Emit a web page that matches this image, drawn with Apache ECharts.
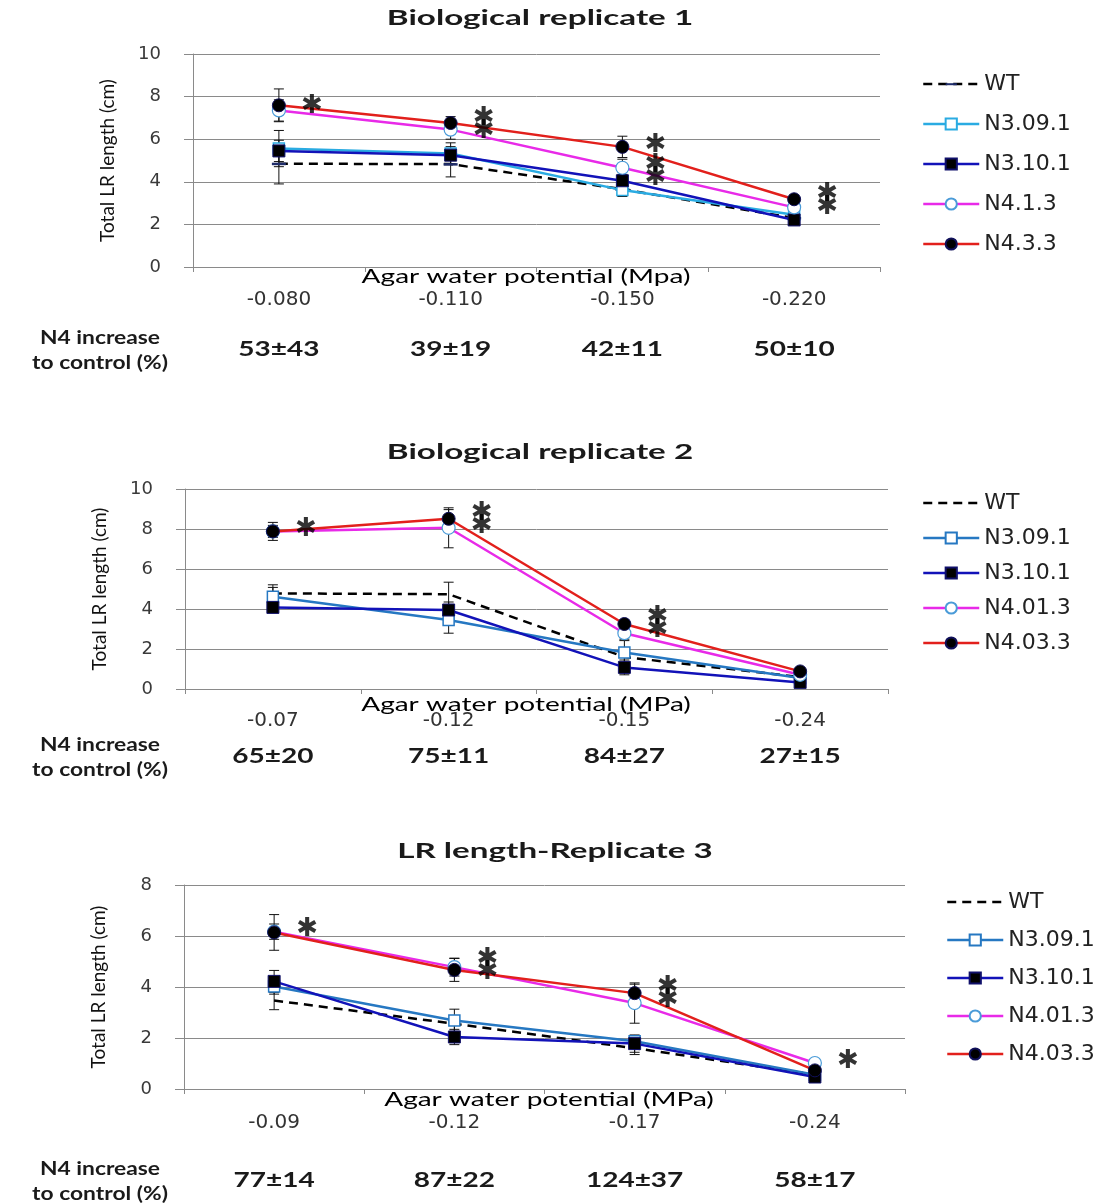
<!DOCTYPE html>
<html>
<head>
<meta charset="utf-8">
<script src="https://cdn.jsdelivr.net/npm/echarts@6/dist/echarts.min.js"></script>
<style>
  html, body { margin: 0; background: #fff; }
  #chart { width: 1112px; height: 1204px; }
</style>
</head>
<body>
<div id="chart"></div>
<script>
// ---- replicate 1
const categories1 = ['-0.080', '-0.110', '-0.150', '-0.220'];
const increase1 = ['53±43', '39±19', '42±11', '50±10'];
const lines1 = ['WT', 'N3.09.1', 'N3.10.1', 'N4.1.3', 'N4.3.3'];
const wt1 = [4.85, 4.83, 3.65, 2.3];
const n309r1 = [5.56, 5.33, 3.61, 2.45];
const n310r1 = [5.45, 5.25, 4.05, 2.21];
const n41r1 = [7.35, 6.45, 4.66, 2.8];
const n43r1 = [7.59, 6.76, 5.64, 3.18];
const wtErr1 = [0.95, 0.6, 0.3, 0.2];
const n309Err1 = [0.85, 0.5, 0.3, 0.2];
const n310Err1 = [0.5, 0.4, 0.3, 0.2];
const n41Err1 = [0.5, 0.45, 0.4, 0.2];
const n43Err1 = [0.77, 0.3, 0.5, 0.2];
const stars1 = [[0, 7.66, '*'], [1, 6.76, '**'], [2, 5.83, '*'], [2, 4.55, '**'], [3, 3.22, '**']];

// ---- replicate 2
const categories2 = ['-0.07', '-0.12', '-0.15', '-0.24'];
const increase2 = ['65±20', '75±11', '84±27', '27±15'];
const lines2 = ['WT', 'N3.09.1', 'N3.10.1', 'N4.01.3', 'N4.03.3'];
const wt2 = [4.78, 4.74, 1.6, 0.6];
const n309r2 = [4.61, 3.45, 1.82, 0.55];
const n310r2 = [4.08, 3.95, 1.08, 0.33];
const n41r2 = [7.88, 8.06, 2.79, 0.71];
const n43r2 = [7.88, 8.51, 3.25, 0.88];
const wtErr2 = [0.3, 0.6, 0.3, 0.1];
const n309Err2 = [0.6, 0.66, 0.6, 0.1];
const n310Err2 = [0.2, 0.4, 0.37, 0.1];
const n41Err2 = [0.3, 1.0, 0.3, 0.1];
const n43Err2 = [0.45, 0.46, 0.2, 0.1];
const stars2 = [[0, 8.09, '*'], [1, 8.54, '**'], [2, 3.37, '**']];

// ---- replicate 3
const categories3 = ['-0.09', '-0.12', '-0.17', '-0.24'];
const increase3 = ['77±14', '87±22', '124±37', '58±17'];
const lines3 = ['WT', 'N3.09.1', 'N3.10.1', 'N4.01.3', 'N4.03.3'];
const wt3 = [3.47, 2.56, 1.6, 0.56];
const n309r3 = [4.02, 2.69, 1.87, 0.56];
const n310r3 = [4.22, 2.04, 1.78, 0.47];
const n41r3 = [6.17, 4.78, 3.37, 1.02];
const n43r3 = [6.14, 4.67, 3.76, 0.73];
const wtErr3 = [0.36, 0.3, 0.25, 0.1];
const n309Err3 = [0.3, 0.44, 0.2, 0.1];
const n310Err3 = [0.43, 0.3, 0.34, 0.1];
const n41Err3 = [0.3, 0.35, 0.79, 0.1];
const n43Err3 = [0.7, 0.45, 0.35, 0.1];
const stars3 = [[0, 6.34, '*'], [1, 4.9, '**'], [2, 3.82, '**'], [3, 1.17, '*']];

const panels = [
  {
    title: 'Biological replicate 1', titleX: 540, titleY: 18,
    grid: { left: 193, top: 54, width: 687, height: 213 },
    cats: categories1, incr: increase1, names: lines1, ymax: 10,
    values: [wt1, n309r1, n310r1, n41r1, n43r1],
    errs: [wtErr1, n309Err1, n310Err1, n41Err1, n43Err1],
    stars: stars1, c309: '#2AABE2', wtMark: true,
    xName: 'Agar water potential (Mpa)', xNameX: 526, xNameY: 277, labelMargin: 23,
    noteY: 350, legend: { left: 917, top: 68, itemGap: 18 }
  },
  {
    title: 'Biological replicate 2', titleX: 540, titleY: 452,
    grid: { left: 185, top: 489, width: 703, height: 200 },
    cats: categories2, incr: increase2, names: lines2, ymax: 10,
    values: [wt2, n309r2, n310r2, n41r2, n43r2],
    errs: [wtErr2, n309Err2, n310Err2, n41Err2, n43Err2],
    stars: stars2, c309: '#2678C2', wtMark: false,
    xName: 'Agar water potential (MPa)', xNameX: 526, xNameY: 705, labelMargin: 22,
    noteY: 757, legend: { left: 917, top: 487, itemGap: 13 }
  },
  {
    title: 'LR length-Replicate 3', titleX: 555, titleY: 851,
    grid: { left: 184, top: 885, width: 721, height: 204 },
    cats: categories3, incr: increase3, names: lines3, ymax: 8,
    values: [wt3, n309r3, n310r3, n41r3, n43r3],
    errs: [wtErr3, n309Err3, n310Err3, n41Err3, n43Err3],
    stars: stars3, c309: '#2678C2', wtMark: false,
    xName: 'Agar water potential (MPa)', xNameX: 549, xNameY: 1100, labelMargin: 24,
    noteY: 1181, legend: { left: 941, top: 886, itemGap: 16 }
  }
];

const chart = echarts.init(document.getElementById('chart'));

const grid = [], xAxis = [], yAxis = [], legend = [], series = [];

panels.forEach((p, k) => {
  const colors = ['#000000', p.c309, '#1212B8', '#E82AE8', '#E2201C'];
  grid.push(p.grid);
  xAxis.push({
    type: 'category', gridIndex: k, data: p.cats, position: 'bottom',
    axisLine: { lineStyle: { color: '#8a8a8a' } },
    axisTick: { show: true, length: 5, lineStyle: { color: '#8a8a8a' } },
    axisLabel: { margin: p.labelMargin, fontFamily: 'DejaVu Sans', fontSize: 20, color: '#333' }
  });
  yAxis.push({
    type: 'value', gridIndex: k, min: 0, max: p.ymax, interval: 2,
    name: 'Total LR length (cm)', nameLocation: 'middle', nameGap: 76,
    nameTextStyle: { fontFamily: 'Lato', fontSize: 19, color: '#111' },
    axisLine: { show: true, lineStyle: { color: '#8a8a8a' } },
    axisTick: { show: true, length: 9, lineStyle: { color: '#8a8a8a' } },
    axisLabel: { margin: 32, fontFamily: 'DejaVu Sans', fontSize: 18, color: '#3a3a3a' },
    splitLine: { lineStyle: { color: '#8a8a8a' } }
  });
  legend.push({
    orient: 'vertical', left: p.legend.left, top: p.legend.top, itemGap: p.legend.itemGap,
    itemWidth: 56, itemHeight: 14,
    data: p.names.map(n => n + '#' + k),
    formatter: n => n.split('#')[0],
    lineStyle: { width: 2.5 },
    textStyle: { fontFamily: 'DejaVu Sans', fontSize: 22, color: '#222' }
  });

  const errData = [];
  p.names.forEach((nm, i) => {
    const s = {
      name: nm + '#' + k, type: 'line', xAxisIndex: k, yAxisIndex: k,
      data: p.values[i], z: 3 + i,
      lineStyle: { color: colors[i], width: 2.5, type: i === 0 ? [9, 6] : 'solid' }
    };
    if (i === 0) {
      if (p.wtMark) {
        // thin dash inside a square box so the legend keeps it flat
        s.symbol = 'path://M0,0M0,6H14V8.5H0ZM14,14';
        s.symbolSize = 14;
        s.itemStyle = { color: '#1F2D6B' };
      } else {
        s.symbol = 'circle';
        s.symbolSize = 0;
        s.itemStyle = { color: 'rgba(0,0,0,0)' };
      }
    } else if (i === 1) {
      s.symbol = 'rect'; s.symbolSize = 11;
      s.itemStyle = { color: '#fff', borderColor: colors[1], borderWidth: 1.5 };
    } else if (i === 2) {
      s.symbol = 'rect'; s.symbolSize = 12;
      s.itemStyle = { color: '#000', borderColor: '#10106a', borderWidth: 1 };
    } else if (i === 3) {
      s.symbol = 'circle'; s.symbolSize = 13;
      s.itemStyle = { color: '#fff', borderColor: '#4A9BD8', borderWidth: 1.2 };
    } else {
      s.symbol = 'circle'; s.symbolSize = 13;
      s.itemStyle = { color: '#000', borderColor: '#10105a', borderWidth: 1 };
    }
    series.push(s);
    p.values[i].forEach((v, j) => errData.push([j, v, p.errs[i][j]]));
  });

  series.push({
    name: 'err' + k, type: 'custom', xAxisIndex: k, yAxisIndex: k, z: 2,
    data: errData, encode: { x: 0, y: 1 }, silent: true,
    renderItem: (params, api) => {
      const x = api.value(0), v = api.value(1), e = api.value(2);
      const top = api.coord([x, v + e]);
      const bot = api.coord([x, v - e]);
      const w = 5;
      const st = { stroke: '#111', lineWidth: 1 };
      return {
        type: 'group', children: [
          { type: 'line', shape: { x1: top[0], y1: top[1], x2: bot[0], y2: bot[1] }, style: st },
          { type: 'line', shape: { x1: top[0] - w, y1: top[1], x2: top[0] + w, y2: top[1] }, style: st },
          { type: 'line', shape: { x1: bot[0] - w, y1: bot[1], x2: bot[0] + w, y2: bot[1] }, style: st }
        ]
      };
    }
  });

  series.push({
    name: 'star' + k, type: 'scatter', xAxisIndex: k, yAxisIndex: k, z: 10,
    data: p.stars, symbolSize: 1, itemStyle: { color: 'rgba(0,0,0,0)' }, silent: true,
    label: {
      show: true, position: 'inside', offset: [33, 2],
      formatter: d => d.data[2] === '**' ? '✱\n✱' : '✱',
      fontFamily: 'DejaVu Sans', fontSize: 26, lineHeight: 13, color: '#000'
    }
  });
});

chart.setOption({
  animation: false,
  grid, xAxis, yAxis, legend, series
});

// texts below/above each panel (stretched like the source figure)
const graphic = [];
panels.forEach((p, k) => {
  graphic.push({
    type: 'text', x: p.titleX, y: p.titleY, scaleX: 1.58,
    style: { text: p.title, textAlign: 'center', textVerticalAlign: 'middle', font: 'bold 21px Lato', fill: '#1a1a1a' }
  });
  graphic.push({
    type: 'text', x: p.xNameX, y: p.xNameY, scaleX: 1.4,
    style: { text: p.xName, textAlign: 'center', textVerticalAlign: 'middle', font: '20px Lato', fill: '#000' }
  });
  graphic.push({
    type: 'text', x: 100, y: p.noteY, scaleX: 1.2,
    style: {
      text: 'N4 increase\nto control (%)', textAlign: 'center', textVerticalAlign: 'middle',
      font: 'bold 19px Lato', lineHeight: 25, fill: '#1a1a1a'
    }
  });
  p.incr.forEach((t, j) => {
    const x = chart.convertToPixel({ xAxisIndex: k }, j);
    graphic.push({
      type: 'text', x: x, y: p.noteY, scaleX: 1.4,
      style: { text: t, textAlign: 'center', textVerticalAlign: 'middle', font: 'bold 20px Lato', fill: '#1a1a1a' }
    });
  });
});
chart.setOption({ graphic });
</script>
</body>
</html>
